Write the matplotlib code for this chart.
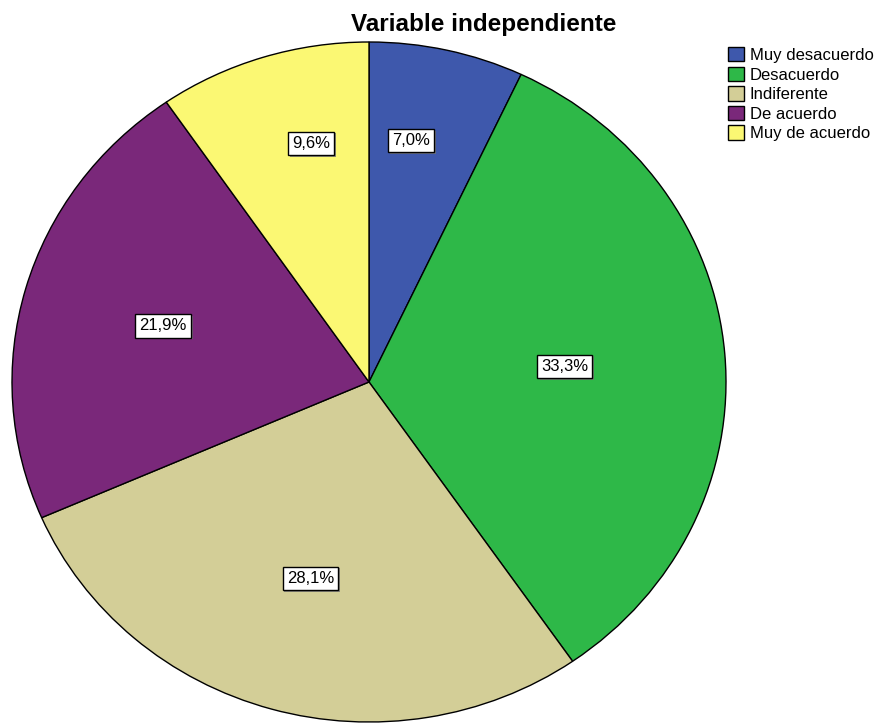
import numpy as np
import matplotlib
matplotlib.use("Agg")
import matplotlib.pyplot as plt
import matplotlib.patheffects as pe

plt.rcParams["font.family"] = ["Liberation Sans", "DejaVu Sans"]

categories = ["Muy desacuerdo", "Desacuerdo", "Indiferente", "De acuerdo", "Muy de acuerdo"]
percents = [7.0, 33.3, 28.1, 21.9, 9.6]
colors = ["#3E58AC", "#2EB848", "#D3CE97", "#7A287A", "#FBF873"]
title = "Variable independiente"

W, H = 878, 723
fig = plt.figure(figsize=(W / 100, H / 100), dpi=100)
# pie spans x 12..726, y 42..722 (pixels) -> slightly elliptical, like SPSS output
ax = fig.add_axes([12 / W, 1 / H, 714 / W, 680 / H])

wedges, _ = ax.pie(percents, colors=colors, startangle=90, counterclock=False,
                   wedgeprops=dict(edgecolor="black", linewidth=1.0))
ax.set_aspect("auto")
ax.set_xlim(-1, 1)
ax.set_ylim(-1, 1)

# percent labels in white boxes with a small shadow
for w, p in zip(wedges, percents):
    mid = (w.theta1 + w.theta2) / 2
    if p < 10:
        # SPSS pulls small-slice labels towards the top
        off = (mid - 90 + 180) % 360 - 180
        mid = 90 + off * 0.75
        r = 0.72
    elif p > 30:
        r = 0.55
    else:
        r = 0.6
    mid = np.deg2rad(mid)
    t = ax.text(r * np.cos(mid), r * np.sin(mid), f"{p:.1f}%".replace(".", ","),
                ha="center", va="center", fontsize=12,
                bbox=dict(boxstyle="square,pad=0.25", fc="white", ec="black", lw=1.0))
    t.get_bbox_patch().set_path_effects(
        [pe.SimplePatchShadow(offset=(1.2, -1.2), shadow_rgbFace="0.45", alpha=0.8), pe.Normal()])

fig.text(484 / W, 1 - 24 / H, title, ha="center", va="center", fontsize=17.5, fontweight="bold")

leg = fig.legend(wedges, categories, loc="upper left", bbox_to_anchor=(728 / W, 1 - 47 / H),
                 frameon=False, fontsize=12, handlelength=0.95, handleheight=0.95,
                 handletextpad=0.35, labelspacing=0.22, borderaxespad=0, borderpad=0)

fig.savefig("out.png", dpi=100)
